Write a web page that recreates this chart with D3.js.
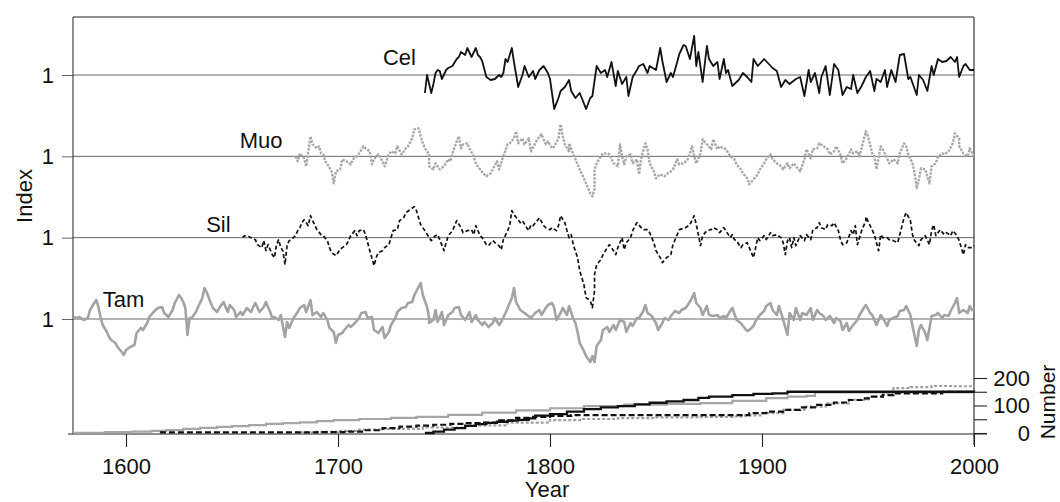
<!DOCTYPE html>
<html><head><meta charset="utf-8">
<script src="https://cdn.jsdelivr.net/npm/d3@7"></script>
<style>
body{margin:0;background:#fff}
svg{display:block}
text{font-family:"Liberation Sans",Arial,Helvetica,sans-serif;fill:#111}
</style>
</head><body>
<svg id="c" width="1060" height="502"></svg>
<script>
// ---------------- data ----------------
const seriesNames = ["Cel", "Muo", "Sil", "Tam"];
const xTicks = [1600, 1700, 1800, 1900, 2000];
const numberTicks = [0, 50, 100, 150, 200];
const numberTickLabels = [0, 100, 200];

// ring-width index series: [year, index]
const celIndex = [[1741,0.82],[1742,1.00],[1744,0.82],[1745,0.91],[1746,1.02],[1747,1.05],[1748,1.04],[1749,0.96],[1751,1.05],[1752,1.07],[1754,1.09],[1756,1.16],[1757,1.18],[1758,1.23],[1760,1.20],[1761,1.27],[1763,1.18],[1765,1.27],[1766,1.20],[1767,1.18],[1768,1.14],[1770,0.98],[1772,0.95],[1774,0.96],[1776,1.00],[1777,0.98],[1778,1.02],[1779,1.16],[1780,1.13],[1782,1.27],[1783,1.13],[1785,0.88],[1787,1.00],[1788,1.09],[1790,0.98],[1792,1.04],[1793,0.96],[1795,1.05],[1797,1.09],[1799,1.02],[1800,0.96],[1802,0.66],[1804,0.77],[1805,0.84],[1807,0.88],[1809,0.95],[1810,0.84],[1812,0.77],[1814,0.82],[1815,0.77],[1817,0.66],[1819,0.77],[1820,0.79],[1822,1.09],[1824,1.02],[1826,1.05],[1827,0.98],[1829,1.13],[1831,0.89],[1832,1.04],[1834,0.91],[1836,0.98],[1837,0.79],[1839,0.98],[1841,1.05],[1842,1.09],[1844,1.11],[1846,1.02],[1847,1.09],[1850,1.05],[1852,1.27],[1853,1.14],[1855,0.93],[1857,1.02],[1858,0.98],[1860,1.13],[1861,1.21],[1863,1.30],[1864,1.29],[1866,1.16],[1868,1.39],[1869,1.09],[1870,1.23],[1872,0.93],[1874,1.29],[1875,1.16],[1877,1.09],[1879,1.13],[1880,0.96],[1882,1.16],[1883,1.02],[1884,1.05],[1886,0.89],[1889,0.95],[1891,1.02],[1893,0.98],[1895,0.93],[1896,1.16],[1898,1.09],[1901,1.16],[1905,1.07],[1907,1.04],[1909,0.88],[1911,0.95],[1913,0.91],[1916,0.96],[1918,0.98],[1920,0.79],[1922,1.05],[1923,0.93],[1925,1.02],[1927,0.82],[1928,0.98],[1930,1.09],[1932,0.80],[1934,1.11],[1936,1.05],[1938,0.80],[1940,0.88],[1942,0.86],[1943,1.00],[1945,0.82],[1947,0.89],[1949,0.98],[1951,1.04],[1953,0.84],[1954,0.96],[1956,0.93],[1958,1.05],[1959,0.88],[1961,1.05],[1963,0.93],[1965,1.20],[1967,1.21],[1969,0.96],[1970,0.98],[1973,0.80],[1974,1.00],[1976,0.95],[1978,0.84],[1980,1.09],[1981,1.00],[1983,1.16],[1985,1.13],[1987,1.14],[1989,1.18],[1991,1.13],[1992,1.18],[1993,0.98],[1995,1.09],[1996,1.11],[1998,1.05],[2000,1.05]];

const muoIndex = [[1680,1.00],[1681,0.95],[1682,1.03],[1684,0.98],[1685,0.90],[1686,1.05],[1687,1.20],[1688,1.12],[1690,1.08],[1691,1.10],[1692,1.03],[1693,1.02],[1694,0.95],[1695,0.92],[1697,0.85],[1698,0.73],[1699,0.85],[1701,0.87],[1702,0.97],[1704,0.95],[1706,0.92],[1707,0.97],[1709,1.00],[1710,1.03],[1712,1.10],[1713,1.08],[1715,1.05],[1716,0.92],[1717,0.97],[1719,1.02],[1721,0.95],[1722,0.90],[1724,1.02],[1725,1.05],[1727,1.03],[1728,1.10],[1730,1.02],[1732,1.08],[1733,1.10],[1735,1.18],[1736,1.27],[1738,1.28],[1739,1.20],[1740,1.13],[1741,1.08],[1743,1.02],[1743,0.90],[1745,0.87],[1746,0.93],[1748,0.87],[1750,0.90],[1752,0.97],[1753,0.95],[1754,1.03],[1756,1.15],[1757,1.20],[1758,1.08],[1759,1.12],[1761,1.13],[1762,1.08],[1764,1.00],[1765,0.93],[1767,0.87],[1769,0.82],[1770,0.80],[1772,0.83],[1773,0.87],[1775,0.95],[1776,0.87],[1778,1.00],[1780,1.12],[1781,1.13],[1783,1.18],[1784,1.25],[1785,1.13],[1787,1.18],[1788,1.12],[1790,1.18],[1791,1.05],[1793,1.13],[1794,1.17],[1796,1.22],[1798,1.12],[1799,1.15],[1801,1.08],[1802,1.10],[1804,1.18],[1805,1.32],[1806,1.20],[1807,1.12],[1809,1.05],[1809,1.13],[1811,1.02],[1813,0.92],[1814,0.87],[1816,0.78],[1817,0.73],[1819,0.63],[1820,0.60],[1821,0.67],[1821,0.87],[1822,0.93],[1824,1.00],[1825,1.03],[1827,1.03],[1828,1.02],[1830,0.93],[1832,0.90],[1833,1.12],[1834,1.00],[1835,0.92],[1836,1.00],[1838,1.02],[1839,0.93],[1841,0.97],[1842,0.82],[1843,0.98],[1845,1.13],[1846,1.07],[1847,0.93],[1849,0.85],[1850,0.78],[1852,0.82],[1854,0.80],[1855,0.82],[1857,0.85],[1858,0.87],[1860,0.97],[1861,0.92],[1863,0.93],[1865,0.97],[1866,1.03],[1867,1.10],[1868,1.00],[1869,0.93],[1871,1.03],[1872,1.17],[1874,1.12],[1876,1.07],[1877,1.17],[1879,1.07],[1880,1.10],[1882,1.08],[1883,1.07],[1885,1.00],[1887,0.97],[1888,0.92],[1890,0.87],[1891,0.83],[1893,0.78],[1894,0.72],[1896,0.77],[1898,0.82],[1899,0.87],[1901,0.93],[1902,0.97],[1904,1.02],[1905,0.97],[1907,0.93],[1909,0.90],[1910,0.87],[1912,0.93],[1913,0.88],[1915,0.93],[1916,0.90],[1918,0.85],[1920,0.97],[1921,1.07],[1923,0.98],[1924,1.07],[1926,1.08],[1927,1.13],[1929,1.10],[1931,1.07],[1932,1.02],[1934,1.05],[1935,1.10],[1937,1.02],[1938,0.93],[1940,0.98],[1942,1.07],[1943,1.03],[1945,1.05],[1946,1.00],[1948,1.17],[1949,1.25],[1950,1.20],[1952,1.03],[1953,1.00],[1954,0.87],[1956,1.10],[1957,1.07],[1959,0.98],[1960,0.93],[1962,0.97],[1964,0.93],[1965,1.03],[1967,1.13],[1968,1.10],[1969,1.02],[1971,0.93],[1972,0.83],[1973,0.68],[1974,0.77],[1975,0.88],[1977,0.87],[1979,0.73],[1980,0.90],[1982,0.93],[1983,1.00],[1985,1.03],[1986,1.02],[1988,1.05],[1990,1.13],[1991,1.23],[1993,1.18],[1993,1.10],[1995,1.03],[1997,1.00],[1998,1.08],[2000,1.00]];

const silIndex = [[1655,1.00],[1656,1.02],[1658,1.01],[1659,1.00],[1661,0.98],[1662,0.93],[1664,0.90],[1665,0.97],[1666,0.87],[1667,0.93],[1669,0.83],[1670,0.80],[1671,0.93],[1672,0.98],[1673,0.90],[1674,0.87],[1675,0.73],[1676,0.93],[1677,0.97],[1678,0.98],[1680,1.02],[1681,1.07],[1682,1.10],[1683,1.15],[1684,1.18],[1686,1.12],[1687,1.22],[1688,1.17],[1689,1.13],[1690,1.08],[1692,1.03],[1693,1.02],[1695,0.97],[1696,0.90],[1697,0.85],[1699,0.82],[1701,0.88],[1702,0.90],[1704,0.93],[1705,0.97],[1706,1.02],[1708,1.07],[1709,1.02],[1710,1.07],[1712,1.08],[1713,1.03],[1714,0.95],[1715,0.87],[1717,0.72],[1718,0.80],[1719,0.85],[1721,0.87],[1722,0.90],[1724,0.93],[1725,1.00],[1726,1.07],[1728,1.08],[1729,1.17],[1731,1.20],[1732,1.25],[1734,1.28],[1736,1.31],[1737,1.27],[1738,1.20],[1739,1.13],[1741,1.07],[1743,1.00],[1744,0.97],[1746,1.02],[1747,1.03],[1748,0.98],[1750,0.87],[1751,0.95],[1752,1.02],[1754,1.07],[1755,1.12],[1756,1.17],[1758,1.10],[1759,1.05],[1761,1.07],[1763,1.08],[1764,1.03],[1765,1.12],[1767,1.02],[1768,1.00],[1770,0.93],[1771,0.92],[1773,0.97],[1775,0.93],[1776,0.92],[1777,0.88],[1778,0.98],[1780,1.07],[1781,1.12],[1782,1.27],[1783,1.23],[1785,1.18],[1786,1.15],[1787,1.17],[1789,1.10],[1790,1.07],[1791,1.13],[1792,1.12],[1794,1.17],[1795,1.20],[1797,1.12],[1798,1.10],[1800,1.08],[1801,1.10],[1803,1.07],[1804,1.12],[1805,1.22],[1807,1.15],[1808,1.07],[1809,1.00],[1810,1.03],[1811,0.93],[1813,0.80],[1814,0.67],[1816,0.53],[1817,0.40],[1819,0.37],[1820,0.30],[1821,0.47],[1821,0.63],[1822,0.73],[1824,0.78],[1825,0.83],[1827,0.90],[1828,0.93],[1830,0.87],[1831,0.83],[1832,0.90],[1834,1.00],[1835,0.88],[1836,0.95],[1838,1.00],[1839,1.07],[1841,1.15],[1843,1.10],[1844,1.08],[1846,1.08],[1847,1.05],[1849,0.95],[1850,0.87],[1852,0.80],[1853,0.75],[1855,0.80],[1857,0.83],[1858,0.93],[1860,1.03],[1861,1.08],[1864,1.10],[1866,1.13],[1868,1.22],[1869,1.13],[1870,1.03],[1871,0.92],[1872,1.02],[1874,1.07],[1876,1.08],[1877,1.10],[1879,1.08],[1880,1.05],[1882,1.10],[1883,1.07],[1885,1.00],[1886,1.03],[1887,0.98],[1888,0.97],[1890,0.90],[1891,0.93],[1893,0.95],[1894,0.90],[1896,0.80],[1898,1.00],[1899,0.97],[1901,1.02],[1902,0.98],[1904,1.05],[1905,1.02],[1907,1.03],[1909,1.00],[1910,0.95],[1911,0.83],[1912,0.97],[1913,1.00],[1914,0.90],[1915,1.00],[1916,0.92],[1918,1.02],[1920,0.97],[1921,1.03],[1923,0.98],[1924,1.08],[1926,1.10],[1927,1.15],[1928,1.10],[1930,1.08],[1931,1.13],[1933,1.12],[1934,1.15],[1936,1.07],[1937,0.98],[1938,0.93],[1940,0.95],[1942,1.07],[1943,1.03],[1944,1.12],[1945,0.93],[1947,1.07],[1949,1.17],[1949,1.21],[1951,1.12],[1953,1.03],[1954,0.95],[1955,0.87],[1956,1.03],[1957,1.00],[1959,1.00],[1960,0.98],[1962,0.97],[1964,0.95],[1965,1.03],[1967,1.20],[1968,1.25],[1970,1.17],[1971,1.03],[1972,0.97],[1974,0.92],[1975,0.98],[1977,1.02],[1979,0.93],[1980,1.07],[1981,1.13],[1982,1.02],[1984,1.08],[1986,1.03],[1987,1.05],[1989,1.02],[1990,1.07],[1992,1.02],[1993,0.97],[1995,0.83],[1996,0.93],[1997,0.90],[1999,0.90],[2000,0.92]];

const tamIndex = [[1575,1.02],[1577,1.01],[1578,1.02],[1580,0.99],[1582,1.01],[1583,1.09],[1585,1.16],[1586,1.19],[1587,1.12],[1588,1.02],[1589,0.94],[1591,0.87],[1592,0.82],[1593,0.79],[1595,0.76],[1596,0.72],[1598,0.67],[1599,0.64],[1600,0.69],[1602,0.72],[1604,0.74],[1605,0.86],[1607,0.91],[1608,0.89],[1610,0.96],[1611,1.02],[1613,1.07],[1615,1.11],[1617,1.12],[1618,1.06],[1620,1.02],[1622,1.09],[1623,1.16],[1625,1.24],[1626,1.21],[1627,1.17],[1628,1.11],[1629,0.84],[1630,1.01],[1631,1.01],[1633,1.07],[1634,1.12],[1636,1.21],[1637,1.31],[1638,1.27],[1640,1.16],[1641,1.11],[1643,1.07],[1644,1.11],[1646,1.17],[1648,1.07],[1649,1.14],[1651,1.09],[1652,1.02],[1654,1.07],[1655,1.04],[1657,1.11],[1659,1.07],[1660,1.12],[1661,1.16],[1663,1.07],[1665,1.12],[1666,1.17],[1668,1.07],[1669,1.01],[1670,1.02],[1672,0.99],[1673,1.04],[1675,0.82],[1676,0.97],[1677,0.91],[1679,1.01],[1681,1.07],[1682,1.11],[1684,1.14],[1685,1.07],[1687,1.19],[1688,1.04],[1690,1.07],[1692,1.02],[1693,1.06],[1695,0.99],[1696,0.91],[1698,0.87],[1699,0.76],[1700,0.84],[1702,0.86],[1703,0.89],[1705,0.94],[1706,0.92],[1708,0.96],[1710,1.01],[1711,1.06],[1713,1.07],[1714,1.01],[1716,1.02],[1717,0.89],[1719,0.86],[1721,0.92],[1722,0.81],[1724,0.87],[1725,0.94],[1727,1.01],[1728,1.07],[1730,1.11],[1732,1.12],[1733,1.16],[1735,1.17],[1736,1.24],[1738,1.32],[1739,1.36],[1740,1.24],[1742,1.12],[1743,1.01],[1743,0.96],[1745,0.99],[1746,1.09],[1747,0.97],[1749,1.07],[1750,0.94],[1752,1.04],[1754,1.07],[1755,1.11],[1757,1.12],[1758,1.04],[1760,0.99],[1762,1.07],[1763,0.97],[1765,1.04],[1766,0.99],[1768,0.94],[1769,0.97],[1771,0.92],[1773,0.96],[1774,1.01],[1776,0.94],[1777,0.97],[1779,1.06],[1780,1.11],[1782,1.21],[1783,1.31],[1784,1.17],[1786,1.09],[1788,1.06],[1791,1.01],[1793,1.06],[1795,1.09],[1796,1.04],[1798,1.11],[1799,1.14],[1801,1.16],[1802,1.11],[1803,0.99],[1805,1.06],[1806,1.11],[1808,1.04],[1809,1.13],[1811,1.00],[1812,0.96],[1813,0.87],[1814,0.76],[1816,0.68],[1817,0.63],[1819,0.57],[1820,0.63],[1821,0.57],[1822,0.73],[1824,0.79],[1825,0.89],[1827,0.92],[1828,0.87],[1830,0.94],[1831,0.89],[1833,0.99],[1835,0.97],[1836,0.87],[1838,0.96],[1839,0.93],[1841,1.01],[1842,1.01],[1844,1.08],[1845,1.14],[1846,1.06],[1848,1.03],[1850,0.96],[1851,0.89],[1853,0.96],[1854,1.01],[1856,0.99],[1857,1.03],[1859,1.08],[1861,1.06],[1862,1.09],[1864,1.11],[1865,1.14],[1867,1.21],[1868,1.26],[1869,1.16],[1871,1.11],[1872,1.04],[1874,1.13],[1875,1.04],[1877,1.03],[1879,1.04],[1880,1.01],[1882,1.03],[1883,1.01],[1885,1.08],[1886,1.11],[1888,0.99],[1890,0.96],[1891,0.93],[1893,0.88],[1894,0.89],[1896,0.93],[1897,0.98],[1899,1.04],[1901,1.08],[1902,1.13],[1904,1.16],[1905,1.09],[1907,1.04],[1908,1.13],[1910,0.99],[1912,0.84],[1913,1.06],[1915,0.99],[1916,1.11],[1918,0.99],[1919,1.06],[1921,1.04],[1923,1.11],[1924,0.99],[1926,1.09],[1927,1.06],[1929,1.03],[1930,0.99],[1932,1.03],[1934,0.96],[1935,1.01],[1937,0.98],[1938,0.89],[1940,0.96],[1941,0.88],[1943,0.94],[1945,0.99],[1946,1.04],[1948,1.11],[1949,1.14],[1951,1.06],[1952,1.04],[1954,0.94],[1956,1.04],[1957,1.01],[1959,0.93],[1960,0.99],[1962,1.01],[1964,1.03],[1965,1.08],[1967,1.09],[1968,1.13],[1970,1.04],[1971,0.93],[1973,0.73],[1974,0.89],[1975,0.94],[1977,0.86],[1978,0.79],[1980,1.03],[1982,1.04],[1983,1.06],[1985,1.01],[1986,1.04],[1988,1.03],[1989,1.08],[1991,1.16],[1992,1.21],[1993,1.06],[1995,1.09],[1997,1.06],[1998,1.13],[1999,1.09],[2000,1.10]];

// sample depth (number of series): [year, count]
const celDepth = [[1741,0],[1745,5],[1750,12],[1755,18],[1760,26],[1765,32],[1770,37],[1775,41],[1780,45],[1785,48],[1790,53],[1793,63],[1800,69],[1808,78],[1816,87],[1824,93],[1832,98],[1840,104],[1847,110],[1855,115],[1863,120],[1870,128],[1875,132],[1886,138],[1896,142],[1905,144],[1912,150],[1990,150],[2000,148]];
const muoDepth = [[1680,2],[1690,4],[1700,8],[1710,12],[1720,15],[1740,20],[1760,28],[1780,38],[1800,47],[1815,51],[1832,54],[1850,57],[1871,59],[1886,60],[1892,64],[1900,72],[1910,84],[1920,96],[1930,108],[1941,121],[1950,132],[1957,144],[1962,163],[1970,167],[1980,171],[1990,170],[2000,169]];
const silDepth = [[1616,2],[1665,2],[1690,3],[1705,5],[1712,10],[1721,18],[1729,23],[1737,27],[1745,30],[1753,33],[1760,36],[1768,38],[1776,46],[1784,55],[1792,59],[1800,62],[1810,65],[1890,65],[1894,72],[1902,78],[1910,84],[1918,93],[1926,102],[1934,111],[1941,120],[1947,126],[1952,132],[1957,138],[1962,144],[1980,144],[1985,150],[2000,150]];
const tamDepth = [[1575,1],[1590,3],[1603,5],[1612,8],[1619,11],[1627,15],[1635,19],[1643,22],[1650,25],[1658,29],[1666,33],[1674,36],[1682,39],[1690,43],[1698,47],[1710,51],[1725,55],[1737,59],[1752,66],[1768,74],[1784,82],[1800,90],[1816,98],[1835,103],[1855,106],[1871,109],[1886,117],[1902,127],[1912,132],[1921,135],[1925,148],[2000,148]];

// ---------------- drawing ----------------
const L = 73, R = 974, T = 17, B = 434;
const svg = d3.select("#c");

const x = d3.scaleLinear().domain([1575, 2000]).range([L, R]);
const base = d3.scalePoint().domain(seriesNames).range([75, 319]);
const yIdx = name => d3.scaleLinear().domain([0, 2]).range([base(name) + 100, base(name) - 100]);
const yNum = d3.scaleLinear().domain([0, 200]).range([433, 378]);

// reference lines at index = 1
svg.append("g").selectAll("line").data(seriesNames).join("line")
  .attr("x1", L).attr("x2", R)
  .attr("y1", d => base(d)).attr("y2", d => base(d))
  .attr("stroke", "#555").attr("stroke-width", 0.9);

// left axis (index = 1 labels)
const gl = svg.append("g").attr("transform", `translate(${L},0)`)
  .call(d3.axisLeft(base).tickSize(11).tickPadding(8).tickFormat(() => "1"));
gl.select(".domain").remove();
gl.selectAll(".tick line").attr("stroke", "#555").attr("stroke-width", 0.9);
gl.selectAll("text").attr("font-size", 22).attr("fill", "#111");

// frame
svg.append("line").attr("x1", L).attr("x2", R).attr("y1", T).attr("y2", T).attr("stroke", "#222").attr("stroke-width", 1.1);
svg.append("line").attr("x1", L).attr("x2", L).attr("y1", T).attr("y2", B).attr("stroke", "#333").attr("stroke-width", 1.1);
svg.append("line").attr("x1", R).attr("x2", R).attr("y1", T).attr("y2", B + 11).attr("stroke", "#222").attr("stroke-width", 1.1);
svg.append("line").attr("x1", L - 5).attr("x2", R + 13).attr("y1", B).attr("y2", B).attr("stroke", "#222").attr("stroke-width", 1.1);

// bottom axis
const gx = svg.append("g").attr("transform", `translate(0,${B})`)
  .call(d3.axisBottom(x).tickValues(xTicks).tickSize(13).tickPadding(11).tickFormat(d3.format("d")));
gx.select(".domain").remove();
gx.selectAll(".tick line").attr("stroke", "#222").attr("stroke-width", 1.1);
gx.selectAll("text").attr("font-size", 22).attr("fill", "#111");

// right axis (Number)
const gr = svg.append("g").attr("transform", `translate(${R},0)`)
  .call(d3.axisRight(yNum).tickValues(numberTicks).tickSize(13)
    .tickFormat(d => numberTickLabels.includes(d) ? d : ""));
gr.select(".domain").remove();
gr.selectAll(".tick line").attr("stroke", "#222").attr("stroke-width", 1.1);
gr.selectAll("text").attr("font-size", 22).attr("fill", "#111")
  .attr("text-anchor", "end").attr("x", 56);

// axis titles
svg.append("text").attr("x", 547).attr("y", 497).attr("text-anchor", "middle")
  .attr("font-size", 22).text("Year");
svg.append("text").attr("transform", "translate(32,196) rotate(-90)").attr("text-anchor", "middle")
  .attr("font-size", 22).text("Index");
svg.append("text").attr("transform", "translate(1055,402) rotate(-90)").attr("text-anchor", "middle")
  .attr("font-size", 21).text("Number");

// sample depth lines
const depthLine = d3.line().x(d => x(d[0])).y(d => yNum(d[1])).curve(d3.curveStepAfter);
const depthStyles = [
  {data: tamDepth, stroke: "#a6a6a6", w: 2.2, dash: null},
  {data: muoDepth, stroke: "#a0a0a0", w: 2.2, dash: "3,2"},
  {data: silDepth, stroke: "#111", w: 2.2, dash: "6,3"},
  {data: celDepth, stroke: "#111", w: 2.3, dash: null}
];
depthStyles.forEach(s => {
  svg.append("path").datum(s.data).attr("d", depthLine)
    .attr("fill", "none").attr("stroke", s.stroke).attr("stroke-width", s.w)
    .attr("stroke-dasharray", s.dash);
});

// index series
const idxSeries = [
  {name: "Tam", data: tamIndex, stroke: "#a3a3a3", w: 2.6, dash: null},
  {name: "Sil", data: silIndex, stroke: "#111", w: 1.7, dash: "4,2.5"},
  {name: "Muo", data: muoIndex, stroke: "#a8a8a8", w: 2.4, dash: "2.5,1.2"},
  {name: "Cel", data: celIndex, stroke: "#111", w: 1.8, dash: null}
];
idxSeries.forEach(s => {
  const ys = yIdx(s.name);
  const line = d3.line().x(d => x(d[0])).y(d => ys(d[1]));
  svg.append("path").datum(s.data).attr("d", line)
    .attr("fill", "none").attr("stroke", s.stroke).attr("stroke-width", s.w)
    .attr("stroke-linejoin", "round").attr("stroke-dasharray", s.dash);
});

// series labels
const labels = [
  {name: "Cel", anchor: "end", x: x(celIndex[0][0]) - 9, dy: -10},
  {name: "Muo", anchor: "end", x: x(muoIndex[0][0]) - 13, dy: -8},
  {name: "Sil", anchor: "end", x: x(silIndex[0][0]) - 12, dy: -6},
  {name: "Tam", anchor: "start", x: x(1589), dy: -12}
];
labels.forEach(l => {
  svg.append("text").attr("x", l.x).attr("y", base(l.name) + l.dy)
    .attr("text-anchor", l.anchor).attr("font-size", 22).text(l.name);
});
</script>
</body></html>
